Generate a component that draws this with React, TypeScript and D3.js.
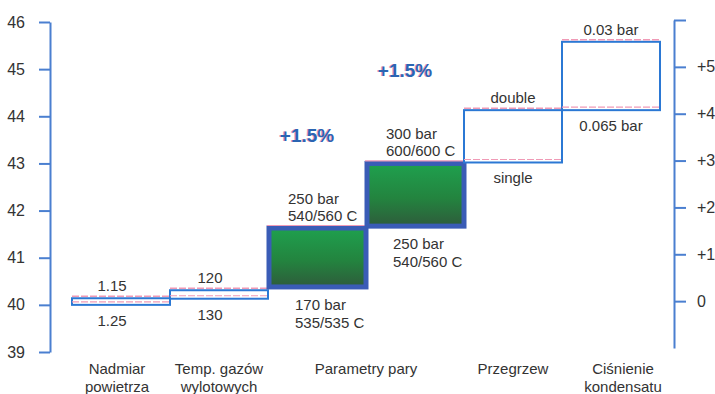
import React, { useEffect, useRef } from "react";
import * as d3 from "d3";

// Categories along the bottom (each split into display lines)
const categories: string[][] = [
  ["Nadmiar", "powietrza"],
  ["Temp. gazów", "wylotowych"],
  ["Parametry pary"],
  ["Przegrzew"],
  ["Ciśnienie", "kondensatu"],
];

// Waterfall steps: which category each step belongs to, and its start/end level
const stepCategory = [0, 1, 2, 2, 3, 4];
const stepFrom = [40.0, 40.13, 40.38, 41.67, 43.02, 44.13];
const stepTo = [40.14, 40.31, 41.63, 43.0, 44.13, 45.58];
const stepKind = ["plain", "plain", "steam", "steam", "plain", "plain"];

// Labels above (end state) and below (start state) each step
const topLabels: string[][] = [
  ["1.15"],
  ["120"],
  ["250 bar", "540/560 C"],
  ["300 bar", "600/600 C"],
  ["double"],
  ["0.03 bar"],
];
const bottomLabels: string[][] = [
  ["1.25"],
  ["130"],
  ["170 bar", "535/535 C"],
  ["250 bar", "540/560 C"],
  ["single"],
  ["0.065 bar"],
];

// Efficiency gain for each steam-parameter step
const steamGains = [1.5, 1.5];

// Axis ticks
const leftTicks = [39, 40, 41, 42, 43, 44, 45, 46];
const rightTicks = [0, 1, 2, 3, 4, 5, 6];

const W = 715;
const H = 394;
const FONT = "'Liberation Sans', Arial, sans-serif";
const TEXT = "#333333";
const AXIS_BLUE = "#4a7fd0";
const EDGE_BLUE = "#2b78d4";
const PINK = "#f09ab6";

export default function App() {
  const leftRef = useRef<SVGGElement>(null);
  const rightRef = useRef<SVGGElement>(null);

  const y = d3.scaleLinear().domain([39, 46]).range([352, 22]);
  const yRight = d3.scaleLinear().domain([-1, 6]).range([348, 20]);
  const x = d3
    .scaleBand<number>()
    .domain(d3.range(stepFrom.length))
    .range([72, 660])
    .paddingInner(0)
    .paddingOuter(0);

  useEffect(() => {
    if (leftRef.current) {
      const g = d3.select(leftRef.current);
      g.selectAll("*").remove();
      g.call(
        d3
          .axisLeft(y)
          .tickValues(leftTicks)
          .tickSize(11)
          .tickSizeOuter(0)
          .tickPadding(14)
          .tickFormat(d3.format("d"))
      );
      g.select(".domain").attr("stroke", AXIS_BLUE).attr("stroke-width", 2);
      g.selectAll(".tick line").attr("stroke", AXIS_BLUE).attr("stroke-width", 2);
      g.selectAll(".tick text")
        .attr("fill", TEXT)
        .attr("font-size", 16)
        .attr("font-family", FONT);
    }
    if (rightRef.current) {
      const g = d3.select(rightRef.current);
      g.selectAll("*").remove();
      g.call(
        d3
          .axisRight(yRight)
          .tickValues(rightTicks)
          .tickSize(12)
          .tickSizeOuter(0)
          .tickPadding(11)
          .tickFormat((d: any) => (d === 6 ? "" : d === 0 ? "0" : "+" + d))
      );
      g.select(".domain").attr("stroke", AXIS_BLUE).attr("stroke-width", 2);
      g.selectAll(".tick line").attr("stroke", AXIS_BLUE).attr("stroke-width", 2);
      g.selectAll(".tick text")
        .attr("fill", TEXT)
        .attr("font-size", 16)
        .attr("font-family", FONT);
    }
  }, []);

  const bw = x.bandwidth();

  // Centre of each category = mean centre of its steps
  const catCenter = categories.map((_, ci) => {
    const idx = stepCategory
      .map((c, i) => (c === ci ? i : -1))
      .filter((i) => i >= 0);
    return d3.mean(idx, (i) => (x(i) as number) + bw / 2) as number;
  });

  const steamSteps = stepKind
    .map((k, i) => (k === "steam" ? i : -1))
    .filter((i) => i >= 0);

  return (
    <svg
      width={W}
      height={H}
      style={{ position: "absolute", left: 0, top: 0, background: "#fff" }}
      fontFamily={FONT}
    >
      <defs>
        <linearGradient id="steamFill" x1="0" y1="0" x2="0" y2="1">
          <stop offset="0%" stopColor="#1fa04e" />
          <stop offset="55%" stopColor="#23843f" />
          <stop offset="100%" stopColor="#2e5c3b" />
        </linearGradient>
      </defs>

      <g ref={leftRef} transform="translate(50,0)" />
      <g ref={rightRef} transform="translate(674,0)" />

      {/* waterfall steps */}
      {stepFrom.map((from, i) => {
        const x0 = x(i) as number;
        const yTop = y(stepTo[i]);
        const yBot = y(from);
        if (stepKind[i] === "steam") {
          return (
            <g key={i}>
              <rect
                x={x0 + 1}
                y={yTop}
                width={bw - 1}
                height={yBot - yTop}
                fill="url(#steamFill)"
                stroke="#3a5cb6"
                strokeWidth={5}
              />
              <line
                x1={x0 - 1}
                x2={x0 + bw + 2}
                y1={yTop - 2.5}
                y2={yTop - 2.5}
                stroke={PINK}
                strokeWidth={1.2}
              />
            </g>
          );
        }
        return (
          <g key={i}>
            <rect
              x={x0}
              y={yTop}
              width={bw}
              height={yBot - yTop}
              fill="#fff"
              stroke={EDGE_BLUE}
              strokeWidth={2}
            />
            <line
              x1={x0}
              x2={x0 + bw}
              y1={yTop - 2}
              y2={yTop - 2}
              stroke={PINK}
              strokeWidth={1.5}
              strokeDasharray="7 2"
            />
            <line
              x1={x0}
              x2={x0 + bw}
              y1={yBot - 3}
              y2={yBot - 3}
              stroke={PINK}
              strokeWidth={1.2}
              strokeDasharray="7 2"
            />
          </g>
        );
      })}

      {/* labels above each step */}
      {topLabels.map((lines, i) => {
        const x0 = x(i) as number;
        const yTop = y(stepTo[i]);
        const multi = lines.length > 1;
        const lx = multi ? x0 + 20 : x0 + bw / 2 - (i < 2 ? 9 : 0);
        return (
          <text
            key={i}
            x={lx}
            textAnchor={multi ? "start" : "middle"}
            fontSize={15}
            fill={TEXT}
          >
            {lines.map((t, j) => (
              <tspan key={j} x={lx} y={yTop - 7 - (lines.length - 1 - j) * 17}>
                {t}
              </tspan>
            ))}
          </text>
        );
      })}

      {/* labels below each step */}
      {bottomLabels.map((lines, i) => {
        const x0 = x(i) as number;
        const yBot = y(stepFrom[i]);
        const multi = lines.length > 1;
        const lx = multi ? x0 + 27 : x0 + bw / 2 - (i < 2 ? 9 : 0);
        return (
          <text
            key={i}
            x={lx}
            textAnchor={multi ? "start" : "middle"}
            fontSize={15}
            fill={TEXT}
          >
            {lines.map((t, j) => (
              <tspan key={j} x={lx} y={yBot + (multi ? 23 : 21) + j * 18}>
                {t}
              </tspan>
            ))}
          </text>
        );
      })}

      {/* efficiency gains of the steam-parameter steps */}
      {steamGains.map((gain, k) => {
        const i = steamSteps[k];
        const cx = (x(i) as number) + bw / 2 - 10;
        const ty = y(stepTo[i]) - 86;
        const label = "+" + d3.format(".1f")(gain) + "%";
        return (
          <g key={k} fontSize={19} fontWeight="bold" textAnchor="middle">
            <text x={cx - 1} y={ty} fill={PINK}>
              {label}
            </text>
            <text x={cx} y={ty} fill="#2b65b2">
              {label}
            </text>
          </g>
        );
      })}

      {/* category labels */}
      {categories.map((lines, ci) => (
        <text
          key={ci}
          textAnchor="middle"
          fontSize={15}
          fill={TEXT}
        >
          {lines.map((t, j) => (
            <tspan key={j} x={catCenter[ci] + (ci === 4 ? 12 : ci === 0 ? -4 : 0)} y={374 + j * 18}>
              {t}
            </tspan>
          ))}
        </text>
      ))}
    </svg>
  );
}
